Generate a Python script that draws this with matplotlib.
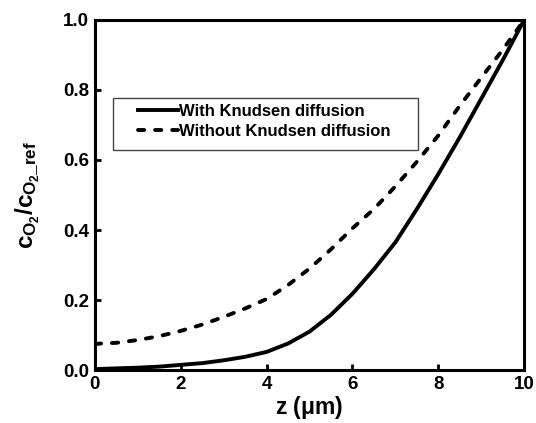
import matplotlib
matplotlib.use("Agg")
import matplotlib.pyplot as plt
from matplotlib.patches import Rectangle

# datos
z = [0, 0.5, 1, 1.5, 2, 2.5, 3, 3.5, 4, 4.5, 5, 5.5, 6, 6.5, 7, 7.5, 8, 8.5, 9, 9.5, 10]
con_knudsen = [0.003, 0.005, 0.007, 0.010, 0.015, 0.020, 0.028, 0.038, 0.052, 0.076,
               0.110, 0.158, 0.218, 0.288, 0.365, 0.460, 0.560, 0.665, 0.775, 0.885, 1.0]
sin_knudsen = [0.075, 0.078, 0.086, 0.097, 0.112, 0.130, 0.152, 0.176, 0.203, 0.243,
               0.290, 0.345, 0.405, 0.460, 0.525, 0.595, 0.670, 0.755, 0.835, 0.915, 1.0]
etiquetas = ["With Knudsen diffusion", "Without Knudsen diffusion"]

plt.rcParams['font.family'] = ['Liberation Sans', 'DejaVu Sans']
plt.rcParams['font.weight'] = 'bold'
plt.rcParams['mathtext.fontset'] = 'custom'
plt.rcParams['mathtext.rm'] = 'Liberation Sans:bold'
plt.rcParams['mathtext.it'] = 'Liberation Sans:bold'
plt.rcParams['mathtext.bf'] = 'Liberation Sans:bold'

fig = plt.figure(figsize=(5.36, 4.23), dpi=100)
ax = fig.add_axes([0.177, 0.125, 0.801, 0.828])

ax.plot(z, con_knudsen, color='black', lw=2.8, solid_joinstyle='round',
        label=etiquetas[0])
ax.plot(z, sin_knudsen, color='black', lw=2.8, ls=(0, (1.6, 2.8)),
        dash_capstyle='round', label=etiquetas[1])

ax.set_xlim(0, 10)
ax.set_ylim(0, 1.0)
ax.set_xticks([0, 2, 4, 6, 8, 10])
ax.set_yticks([0.0, 0.2, 0.4, 0.6, 0.8, 1.0])
ax.set_yticklabels(['0.0', '0.2', '0.4', '0.6', '0.8', '1.0'])
ax.tick_params(direction='in', length=4, width=2, labelsize=13.5, pad=4)
for lab in ax.get_xticklabels() + ax.get_yticklabels():
    lab.set_fontweight('bold')
for s in ax.spines.values():
    s.set_linewidth(2.2)

ax.set_xlabel(r'z ($\mu$m)', fontsize=16.5, fontweight='bold', labelpad=1)
ax.set_ylabel(r'$c_{O_2}/c_{O_2\_ref}$', fontsize=17.5, labelpad=15)

# leyenda con marco propio (mas ancho a la derecha, como en el original)
leg = ax.legend(loc='upper left', bbox_to_anchor=(0.100, 0.761), frameon=False,
                handlelength=2.4, handletextpad=0.1, borderpad=0.0,
                borderaxespad=0.0, labelspacing=0.3,
                prop={'size': 12, 'weight': 'bold'})
ax.add_patch(Rectangle((0.042, 0.629), 0.711, 0.149, transform=ax.transAxes,
                       fill=False, edgecolor='#444444', lw=1.0, zorder=5))

fig.savefig('out.png', dpi=100)
